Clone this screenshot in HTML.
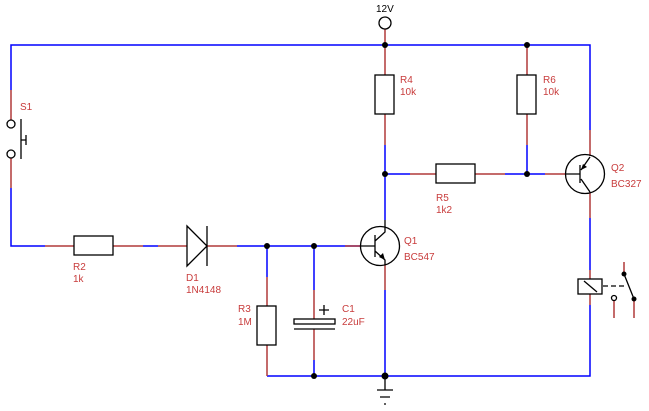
<!DOCTYPE html>
<html><head><style>body{margin:0;background:#fff}svg{display:block}text{font-family:"Liberation Sans",sans-serif;font-size:10px;fill:#c83c3c}</style></head>
<body>
<svg width="649" height="411" viewBox="0 0 649 411" xmlns="http://www.w3.org/2000/svg">
<g fill="none" stroke-width="1.5">
<g stroke="#0000ff">
<path d="M11 90V45H590V130"/>
<path d="M11 188V246H45"/>
<path d="M143 246H158"/>
<path d="M237 246H360"/>
<path d="M267 246V277"/>
<path d="M314 246V290M314 360V376"/>
<path d="M267 376H590V305"/>
<path d="M385 290V376"/>
<path d="M385 145V220"/>
<path d="M385 174H410"/>
<path d="M505 174H545"/>
<path d="M527 145V174"/>
<path d="M590 218V270"/>
</g>
<g stroke="#b03a3a">
<path d="M11 90V120M11 158V188"/>
<path d="M45 246H74M113 246H143M158 246H187M207 246H237"/>
<path d="M267 277V306M267 345V376"/>
<path d="M314 290V319M314 329V360"/>
<path d="M345 246H360"/>
<path d="M385 265V290"/>
<path d="M385 29V45M385 45V75M385 114V145"/>
<path d="M527 45V75M527 114V145"/>
<path d="M410 174H436M475 174H505"/>
<path d="M545 174H566"/>
<path d="M590 130V156M590 192V218"/>
<path d="M590 270V279M590 294V305"/>
<path d="M624 262V274M614 301V318M634 299V318"/>
</g>
</g>
<g fill="none" stroke="#000" stroke-width="1.3">
<circle cx="11" cy="124" r="4"/><circle cx="11" cy="154" r="4"/>
<path d="M21 119V159M21 140H26M26 135V145"/>
<rect x="74" y="236" width="39" height="19" fill="#fff"/>
<rect x="257" y="306" width="19" height="39" fill="#fff"/>
<rect x="375" y="75" width="19" height="39" fill="#fff"/>
<rect x="517" y="75" width="19" height="39" fill="#fff"/>
<rect x="436" y="164" width="39" height="19" fill="#fff"/>
<path d="M187 226V266L207 246Z M207 226V266"/>
<rect x="294" y="319" width="41" height="5" fill="#fff"/>
<path d="M294 329H335M319 310H329M324 305V315"/>
<circle cx="380" cy="246" r="19.5"/>
<path d="M360 246H375M375 235V257M375 241L385 232V220M375 251L385 260V265"/>
<circle cx="585" cy="174" r="19.5"/>
<path d="M566 174H580M580 165V183M581 170L590 157M581 179L590 192"/>
<circle cx="385" cy="23" r="6"/>
<path d="M385 376V390M377 390H393M380 397H390M384 404H386"/>
<rect x="578" y="279" width="24" height="15"/>
<path d="M584 281L597 292"/>
<path d="M603 286H625" stroke-dasharray="5 3"/>
<path d="M624 274L634 299"/>
<circle cx="614" cy="298" r="2.5"/>
</g>
<g fill="#000">
<circle cx="385" cy="45" r="3"/><circle cx="527" cy="45" r="3"/>
<circle cx="385" cy="174" r="3"/><circle cx="527" cy="174" r="3"/>
<circle cx="267" cy="246" r="3"/><circle cx="314" cy="246" r="3"/>
<circle cx="314" cy="376" r="3"/><circle cx="385" cy="376" r="3.5"/>
<circle cx="624" cy="274" r="2.5"/><circle cx="634" cy="299" r="2.5"/>
<path d="M385 260L379 257L383 253Z"/>
<path d="M581 170L583 164L587 167Z"/>
</g>
<text x="20" y="110">S1</text>
<text x="73" y="270">R2</text><text x="73" y="282">1k</text>
<text x="186" y="281">D1</text><text x="186" y="293">1N4148</text>
<text x="238" y="312">R3</text><text x="238" y="325">1M</text>
<text x="342" y="312">C1</text><text x="342" y="325">22uF</text>
<text x="404" y="244">Q1</text><text x="404" y="260">BC547</text>
<text x="400" y="83">R4</text><text x="400" y="95">10k</text>
<text x="543" y="83">R6</text><text x="543" y="95">10k</text>
<text x="436" y="201">R5</text><text x="436" y="213">1k2</text>
<text x="611" y="171">Q2</text><text x="611" y="187">BC327</text>
<text x="376" y="12" style="fill:#000">12V</text>
</svg>
</body></html>
